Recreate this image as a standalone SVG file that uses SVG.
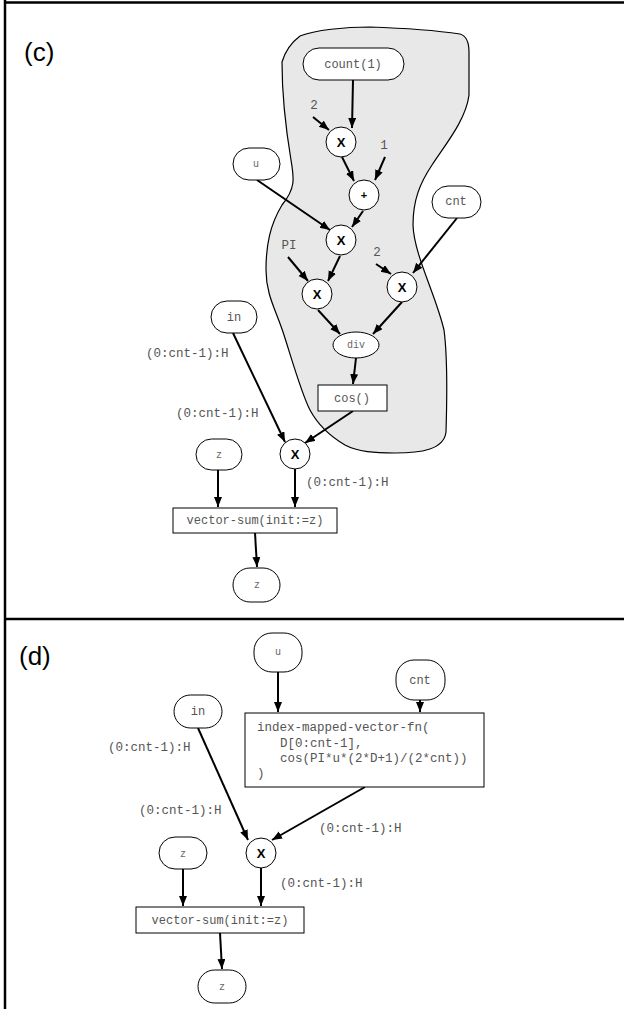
<svg xmlns="http://www.w3.org/2000/svg" width="624" height="1009" viewBox="0 0 624 1009">
<defs>
<marker id="ah" markerUnits="userSpaceOnUse" markerWidth="11" markerHeight="9" refX="10" refY="4" orient="auto">
<path d="M0,0 L10,4 L0,8 Z" fill="#000"/>
</marker>
<style>
.frame{stroke:#000;stroke-width:2.5;fill:none}
.pill{fill:#fff;stroke:#000;stroke-width:1}
.box{fill:#fff;stroke:#000;stroke-width:1}
.op{fill:#fff;stroke:#000;stroke-width:1}
.edge{stroke:#000;stroke-width:2;fill:none;marker-end:url(#ah)}
.lbl{font-family:"Liberation Mono","Courier New",monospace;font-size:12.5px;fill:#555}
.nt{font-family:"Liberation Mono","Courier New",monospace;font-size:12px;fill:#555;text-anchor:middle}
.sm{font-family:"Liberation Mono","Courier New",monospace;font-size:10px;fill:#666;text-anchor:middle}
.ox{font-family:"Liberation Sans",Arial,sans-serif;font-size:13px;font-weight:bold;fill:#000;text-anchor:middle}
.title{font-family:"Liberation Sans",Arial,sans-serif;font-size:26px;fill:#000}
</style>
</defs>
<rect width="624" height="1009" fill="#fff"/>
<g id="frame">
<line class="frame" x1="5" y1="2.5" x2="624" y2="2.5"/>
<line class="frame" x1="5" y1="0" x2="5" y2="1009"/>
<line class="frame" x1="5" y1="619" x2="624" y2="619"/>
</g>
<text class="title" x="24" y="61">(c)</text>
<text class="title" x="19" y="665">(d)</text>
<g id="blob">
<path d="M282 62 C285 52 292 42 300 36 C315 30 345 27 370 27 C400 28 440 31 460 34 C467 36 469 44 469 52 L469 95 C466 120 445 145 432 165 C420 183 413 200 413 225 C414 255 436 295 444 330 C448 360 447 400 446 432 C444 450 420 453 395 453 C375 453 358 452 345 445 C328 435 318 425 310 410 C302 395 292 360 284 335 C276 310 266 295 266 270 C266 245 270 225 282 205 C296 188 294 178 291 160 C286 130 282 95 282 62 Z" fill="#e8e8e8" stroke="#000" stroke-width="1.2"/>
</g>
<g id="connectors">
<line class="edge" x1="353" y1="80" x2="352" y2="128"/>
<line class="edge" x1="313" y1="117" x2="329" y2="130"/>
<line class="edge" x1="342" y1="157" x2="354" y2="181"/>
<line class="edge" x1="385" y1="157" x2="375" y2="180"/>
<line class="edge" x1="257" y1="180" x2="330" y2="230"/>
<line class="edge" x1="363" y1="211" x2="352" y2="227"/>
<line class="edge" x1="288" y1="257" x2="308" y2="281"/>
<line class="edge" x1="340" y1="256" x2="328" y2="281"/>
<line class="edge" x1="376" y1="264" x2="391" y2="274"/>
<line class="edge" x1="457" y1="218" x2="413" y2="273"/>
<line class="edge" x1="318" y1="310" x2="340" y2="334"/>
<line class="edge" x1="402" y1="302" x2="373" y2="334"/>
<line class="edge" x1="356" y1="358" x2="353" y2="384"/>
<line class="edge" x1="233" y1="333" x2="285" y2="442"/>
<line class="edge" x1="353" y1="411" x2="305" y2="443"/>
<line class="edge" x1="218" y1="470" x2="218" y2="507"/>
<line class="edge" x1="295" y1="469" x2="295" y2="507"/>
<line class="edge" x1="255" y1="533" x2="257" y2="567"/>
<line class="edge" x1="278" y1="672" x2="278" y2="712"/>
<line class="edge" x1="420" y1="700" x2="420" y2="712"/>
<line class="edge" x1="198" y1="728" x2="248" y2="840"/>
<line class="edge" x1="365" y1="787" x2="272" y2="840"/>
<line class="edge" x1="183" y1="869" x2="183" y2="906"/>
<line class="edge" x1="261" y1="868" x2="261" y2="906"/>
<line class="edge" x1="220" y1="933" x2="222" y2="969"/>
</g>
<g id="labels">
<text class="lbl" x="314" y="109" text-anchor="middle">2</text>
<text class="lbl" x="384" y="149" text-anchor="middle">1</text>
<text class="lbl" x="289" y="249" text-anchor="middle">PI</text>
<text class="lbl" x="377" y="256" text-anchor="middle">2</text>
<text class="lbl" x="146" y="357">(0:cnt-1):H</text>
<text class="lbl" x="176" y="417">(0:cnt-1):H</text>
<text class="lbl" x="306" y="486">(0:cnt-1):H</text>
<text class="lbl" x="108" y="751">(0:cnt-1):H</text>
<text class="lbl" x="139" y="814">(0:cnt-1):H</text>
<text class="lbl" x="319" y="832">(0:cnt-1):H</text>
<text class="lbl" x="280" y="887">(0:cnt-1):H</text>
</g>
<g id="c-count">
<rect class="pill" x="303" y="48" width="101" height="32" rx="16"/>
<text class="nt" x="353" y="68">count(1)</text>
</g>
<g id="c-mul1">
<circle class="op" cx="341" cy="142" r="15"/>
<text class="ox" x="341" y="147">X</text>
</g>
<g id="c-plus">
<circle class="op" cx="364" cy="195" r="15"/>
<text class="ox" x="364" y="199" style="font-size:11px">+</text>
</g>
<g id="c-u">
<rect class="pill" x="233" y="148" width="47" height="32" rx="16"/>
<text class="sm" x="256" y="167">u</text>
</g>
<g id="c-cnt">
<rect class="pill" x="432" y="186" width="49" height="32" rx="16"/>
<text class="nt" x="456" y="205">cnt</text>
</g>
<g id="c-mul2">
<circle class="op" cx="341" cy="240" r="15"/>
<text class="ox" x="341" y="245">X</text>
</g>
<g id="c-mul3">
<circle class="op" cx="317" cy="294" r="15"/>
<text class="ox" x="317" y="299">X</text>
</g>
<g id="c-mul4">
<circle class="op" cx="402" cy="287" r="15"/>
<text class="ox" x="402" y="292">X</text>
</g>
<g id="c-div">
<ellipse class="op" cx="356" cy="345" rx="23" ry="13"/>
<text class="sm" x="356" y="348">div</text>
</g>
<g id="c-cos">
<rect class="box" x="318" y="385" width="69" height="26"/>
<text class="nt" x="352" y="402">cos()</text>
</g>
<g id="c-in">
<rect class="pill" x="211" y="301" width="46" height="32" rx="16"/>
<text class="nt" x="234" y="321">in</text>
</g>
<g id="c-mul5">
<circle class="op" cx="295" cy="454" r="15"/>
<text class="ox" x="295" y="459">X</text>
</g>
<g id="c-z">
<rect class="pill" x="196" y="439" width="46" height="31" rx="15.5"/>
<text class="sm" x="219" y="458">z</text>
</g>
<g id="c-vsum">
<rect class="box" x="173" y="508" width="164" height="25"/>
<text class="nt" x="255" y="524">vector-sum(init:=z)</text>
</g>
<g id="c-zout">
<rect class="pill" x="233" y="568" width="47" height="34" rx="17"/>
<text class="sm" x="257" y="588">z</text>
</g>
<g id="d-u">
<rect class="pill" x="254" y="633" width="48" height="39" rx="18"/>
<text class="sm" x="278" y="655">u</text>
</g>
<g id="d-cnt">
<rect class="pill" x="396" y="660" width="49" height="40" rx="18"/>
<text class="nt" x="420" y="684">cnt</text>
</g>
<g id="d-in">
<rect class="pill" x="174" y="695" width="48" height="33" rx="16.5"/>
<text class="nt" x="198" y="715">in</text>
</g>
<g id="d-imvf">
<rect class="box" x="245" y="713" width="239" height="74"/>
<text class="lbl" x="257" y="731">index-mapped-vector-fn(</text>
<text class="lbl" x="280" y="747">D[0:cnt-1],</text>
<text class="lbl" x="280" y="762">cos(PI*u*(2*D+1)/(2*cnt))</text>
<text class="lbl" x="257" y="777">)</text>
</g>
<g id="d-mul">
<circle class="op" cx="261" cy="853" r="15"/>
<text class="ox" x="261" y="858">X</text>
</g>
<g id="d-z">
<rect class="pill" x="159" y="837" width="48" height="32" rx="16"/>
<text class="sm" x="183" y="857">z</text>
</g>
<g id="d-vsum">
<rect class="box" x="136" y="907" width="168" height="26"/>
<text class="nt" x="220" y="924">vector-sum(init:=z)</text>
</g>
<g id="d-zout">
<rect class="pill" x="198" y="970" width="48" height="33" rx="16.5"/>
<text class="sm" x="222" y="990">z</text>
</g>
</svg>
